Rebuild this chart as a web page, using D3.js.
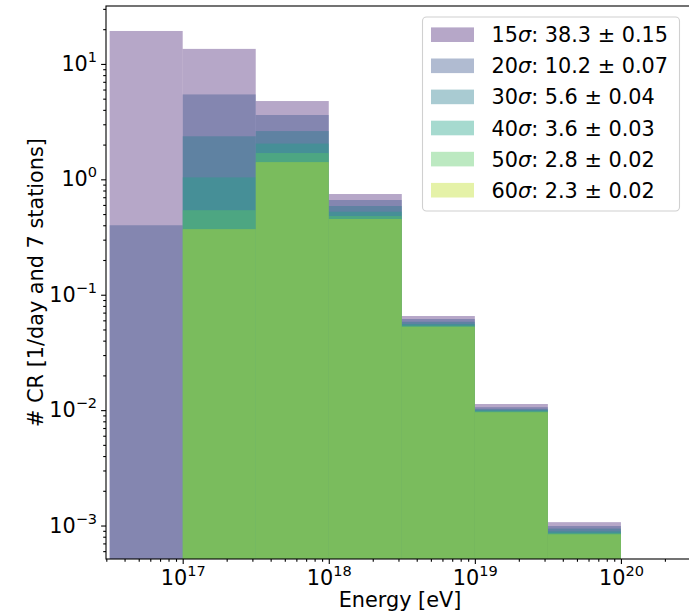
<!DOCTYPE html>
<html>
<head>
<meta charset="utf-8">
<script src="https://cdn.jsdelivr.net/npm/d3@7"></script>
<style>
  body { margin: 0; background: #fff; }
  text { font-family: "DejaVu Sans", sans-serif; fill: #000; }
</style>
</head>
<body>
<script>
// bin edges, log10(E / eV)
const edgeExp = [16.5, 17, 17.5, 18, 18.5, 19, 19.5, 20];

// counts per bin [1/day, 7 stations]
const s15 = [19.3, 13.5, 4.77, 0.746, 0.0654, 0.0113, 0.00107];
const s20 = [0.40, 5.44, 3.61, 0.662, 0.0616, 0.0106, 0.00099];
const s30 = [0, 2.36, 2.62, 0.587, 0.0583, 0.0102, 0.00094];
const s40 = [0, 1.04, 2.04, 0.524, 0.0557, 0.0100, 0.00089];
const s50 = [0, 0.54, 1.69, 0.481, 0.0539, 0.0098, 0.00086];
const s60 = [0, 0.37, 1.41, 0.453, 0.0528, 0.0096, 0.00084];

const sigmas = [15, 20, 30, 40, 50, 60];
const rates = ['38.3 ± 0.15', '10.2 ± 0.07', '5.6 ± 0.04', '3.6 ± 0.03', '2.8 ± 0.02', '2.3 ± 0.02'];
const seriesVals = [s15, s20, s30, s40, s50, s60];

const xMajor = [1e17, 1e18, 1e19, 1e20];
const yMajor = [1e-3, 1e-2, 1e-1, 1e0, 1e1];

const W = 689, H = 614;
const mLeft = 106, mTop = 6, mBottom = 559, mRight = 767;

const svg = d3.select('body').append('svg')
  .attr('width', W).attr('height', H);

const x = d3.scaleLog().domain([Math.pow(10, 16.475), 1e21]).range([mLeft, mRight]);
const y = d3.scaleLog().domain([Math.pow(10, -3.29), Math.pow(10, 1.502)]).range([mBottom, mTop]);

const colors = d3.range(6).map(i => d3.interpolateViridis(0.1 + 0.16 * i));

svg.append('clipPath').attr('id', 'clip')
  .append('rect').attr('x', mLeft).attr('y', mTop)
  .attr('width', mRight - mLeft).attr('height', mBottom - mTop);

const plot = svg.append('g').attr('clip-path', 'url(#clip)');

// histograms, drawn in order with alpha
seriesVals.forEach((vals, k) => {
  const bars = vals.map((v, i) => ({ x0: Math.pow(10, edgeExp[i]), x1: Math.pow(10, edgeExp[i + 1]), v }))
    .filter(d => d.v > 0);
  plot.selectAll('rect.s' + k)
    .data(bars)
    .enter()
    .append('rect')
    .attr('class', 's' + k)
    .attr('x', d => x(d.x0))
    .attr('width', d => x(d.x1) - x(d.x0))
    .attr('y', d => y(d.v))
    .attr('height', d => mBottom - y(d.v))
    .attr('fill', colors[k])
    .attr('fill-opacity', 0.4);
});

// minor ticks
function minors(scale) {
  const [a, b] = scale.domain();
  const out = [];
  for (let e = Math.floor(Math.log10(a)); e <= Math.ceil(Math.log10(b)); e++) {
    for (let m = 2; m <= 9; m++) {
      const v = m * Math.pow(10, e);
      if (v >= a && v <= b) out.push(v);
    }
  }
  return out;
}

const fs = 20.8;

function supLabel(sel) {
  sel.each(function (d) {
    const t = d3.select(this);
    const e = Math.round(Math.log10(d));
    t.text(null);
    t.append('tspan').text('10');
    t.append('tspan').attr('dy', -9).style('font-size', (fs * 0.7) + 'px')
      .text(String(e).replace('-', '\u2212'));
  });
}

const xAxis = svg.append('g').attr('transform', `translate(0,${mBottom})`)
  .call(d3.axisBottom(x).tickValues(xMajor).tickSize(4.9).tickPadding(4));
xAxis.selectAll('text').style('font-size', fs + 'px').attr('dy', '0.82em').call(supLabel);
svg.append('g').attr('transform', `translate(0,${mBottom})`)
  .call(d3.axisBottom(x).tickValues(minors(x)).tickSize(2.8).tickFormat(''));

const yAxis = svg.append('g').attr('transform', `translate(${mLeft},0)`)
  .call(d3.axisLeft(y).tickValues(yMajor).tickSize(4.9).tickPadding(4));
yAxis.selectAll('text').style('font-size', fs + 'px').attr('dy', '0.32em').call(supLabel);
svg.append('g').attr('transform', `translate(${mLeft},0)`)
  .call(d3.axisLeft(y).tickValues(minors(y)).tickSize(2.8).tickFormat(''));

svg.selectAll('.domain').remove();
svg.selectAll('.tick line').attr('stroke', '#000').attr('stroke-width', 1.1);

// frame
svg.append('rect')
  .attr('x', mLeft).attr('y', mTop)
  .attr('width', mRight - mLeft).attr('height', mBottom - mTop)
  .attr('fill', 'none').attr('stroke', '#000').attr('stroke-width', 1.1);

// axis labels
svg.append('text')
  .attr('x', 400).attr('y', 607)
  .attr('text-anchor', 'middle')
  .style('font-size', fs + 'px')
  .text('Energy [eV]');

svg.append('text')
  .attr('transform', `translate(43,${(mTop + mBottom) / 2}) rotate(-90)`)
  .attr('text-anchor', 'middle')
  .style('font-size', fs + 'px')
  .text('# CR [1/day and 7 stations]');

// legend
const lg = svg.append('g');
lg.append('rect')
  .attr('x', 422.5).attr('y', 17).attr('width', 257).attr('height', 194)
  .attr('rx', 4).attr('fill', '#fff').attr('fill-opacity', 0.8)
  .attr('stroke', '#d0d0d0').attr('stroke-width', 1.1);

sigmas.forEach((s, i) => {
  const cy = 34.7 + i * 31.1;
  lg.append('rect')
    .attr('x', 431).attr('y', cy - 7.3).attr('width', 43).attr('height', 14.6)
    .attr('fill', colors[i]).attr('fill-opacity', 0.4);
  const t = lg.append('text')
    .attr('x', 491.5).attr('y', cy + 7.5)
    .style('font-size', fs + 'px');
  t.append('tspan').text(s);
  t.append('tspan').style('font-style', 'italic').text('σ');
  t.append('tspan').text(': ' + rates[i]);
});
</script>
</body>
</html>
